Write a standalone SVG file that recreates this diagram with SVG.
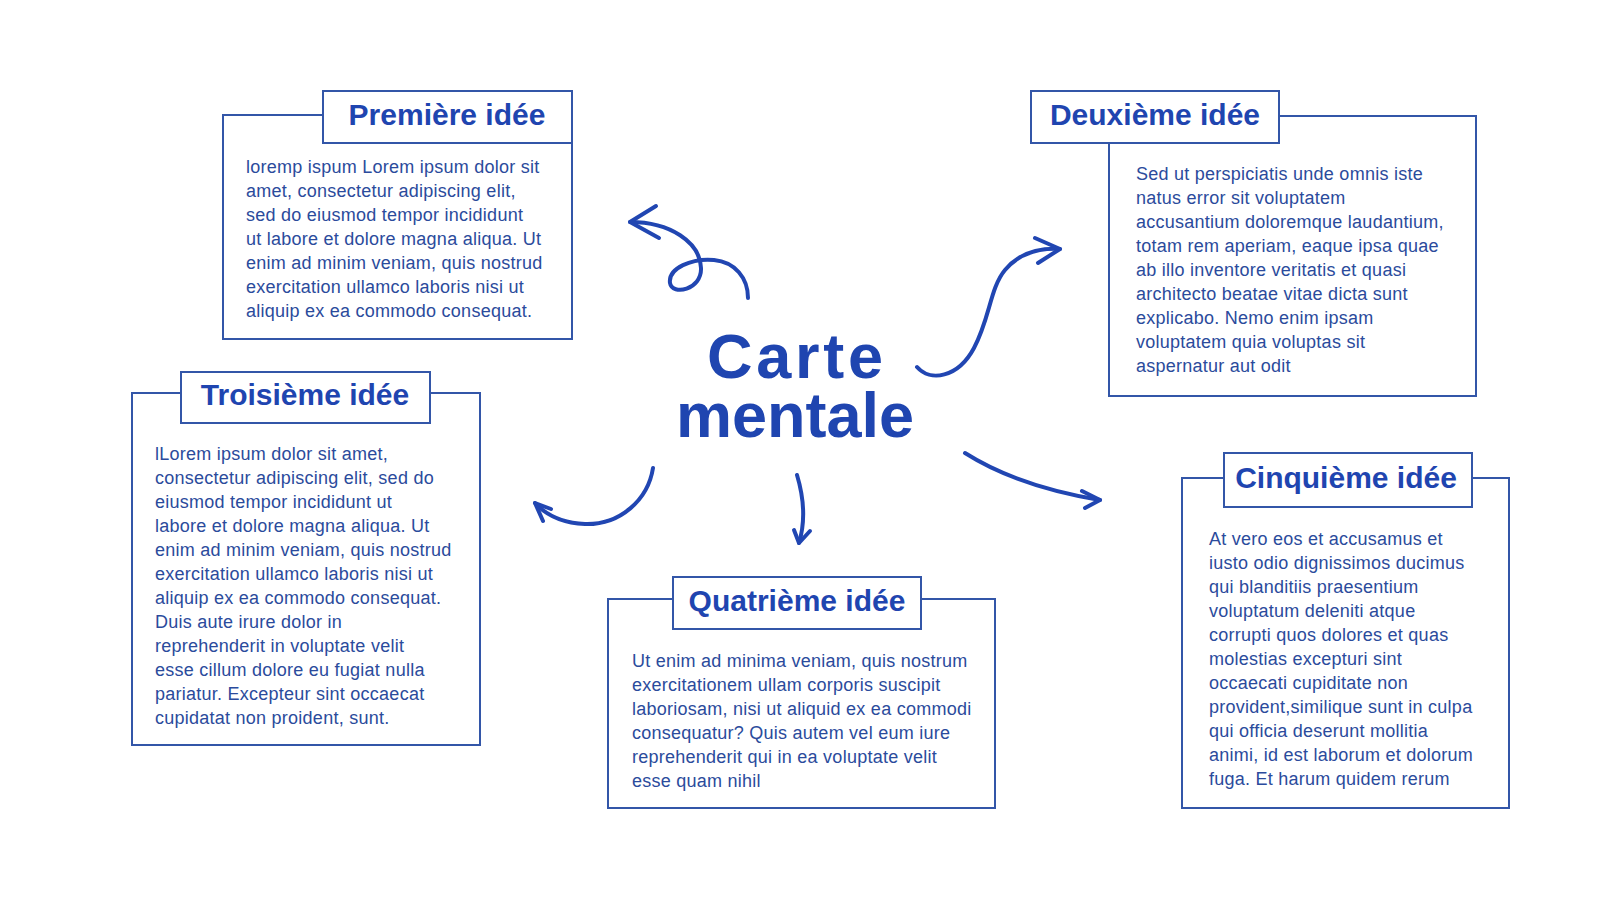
<svg xmlns="http://www.w3.org/2000/svg" width="1600" height="900" viewBox="0 0 1600 900">
<style>
.box{fill:#ffffff;stroke:#3356a8;stroke-width:2}
.title{font-family:"Liberation Sans",Arial,sans-serif;font-weight:bold;font-size:30px;fill:#1f45b0;text-anchor:middle}
.body{font-family:"Liberation Sans",Arial,sans-serif;font-size:18px;letter-spacing:0.25px;fill:#2b4b9c}
.main{font-family:"Liberation Sans",Arial,sans-serif;font-weight:bold;font-size:63px;fill:#1f45b0;text-anchor:middle}
.arrow{fill:none;stroke:#2146b2;stroke-width:4;stroke-linecap:round;stroke-linejoin:round}
</style>
<rect width="1600" height="900" fill="#ffffff"/>

<g id="center">
<text class="main" x="795" y="378" textLength="176" lengthAdjust="spacing">Carte</text>
<text class="main" x="795" y="437">mentale</text>
</g>

<g id="connectors">
<path class="arrow" d="M748,298 C748,278 735,262 714,260 C692,258 668,268 670,283 C672,296 702,290 701,268 C700,242 670,222 630,222"/>
<path class="arrow" d="M656,206 L630,222 L659,238"/>
<path class="arrow" d="M917,367 C930,382 958,378 974,348 C990,318 990,288 1005,270 C1020,252 1040,248 1060,249"/>
<path class="arrow" d="M1035,238 L1060,249 L1038,263"/>
<path class="arrow" d="M653,468 C648,500 620,525 585,524 C562,523 546,515 535,503"/>
<path class="arrow" d="M551,509 L535,503 L543,521"/>
<path class="arrow" d="M797,475 C803,495 806,520 799,543"/>
<path class="arrow" d="M794,530 L799,543 L810,531"/>
<path class="arrow" d="M965,453 C995,472 1040,490 1100,500"/>
<path class="arrow" d="M1082,491 L1100,500 L1085,508"/>
</g>

<g id="idea1">
<rect class="box" x="223" y="115" width="349" height="224"/>
<rect class="box" x="323" y="91" width="249" height="52"/>
<text class="title" x="447" y="125">Première idée</text>
<text class="body" x="246" y="173">
<tspan x="246" dy="0">loremp ispum Lorem ipsum dolor sit</tspan>
<tspan x="246" dy="24">amet, consectetur adipiscing elit,</tspan>
<tspan x="246" dy="24">sed do eiusmod tempor incididunt</tspan>
<tspan x="246" dy="24">ut labore et dolore magna aliqua. Ut</tspan>
<tspan x="246" dy="24">enim ad minim veniam, quis nostrud</tspan>
<tspan x="246" dy="24">exercitation ullamco laboris nisi ut</tspan>
<tspan x="246" dy="24">aliquip ex ea commodo consequat.</tspan>
</text>
</g>

<g id="idea2">
<rect class="box" x="1109" y="116" width="367" height="280"/>
<rect class="box" x="1031" y="91" width="248" height="52"/>
<text class="title" x="1155" y="125">Deuxième idée</text>
<text class="body" x="1136" y="180">
<tspan x="1136" dy="0">Sed ut perspiciatis unde omnis iste</tspan>
<tspan x="1136" dy="24">natus error sit voluptatem</tspan>
<tspan x="1136" dy="24">accusantium doloremque laudantium,</tspan>
<tspan x="1136" dy="24">totam rem aperiam, eaque ipsa quae</tspan>
<tspan x="1136" dy="24">ab illo inventore veritatis et quasi</tspan>
<tspan x="1136" dy="24">architecto beatae vitae dicta sunt</tspan>
<tspan x="1136" dy="24">explicabo. Nemo enim ipsam</tspan>
<tspan x="1136" dy="24">voluptatem quia voluptas sit</tspan>
<tspan x="1136" dy="24">aspernatur aut odit</tspan>
</text>
</g>

<g id="idea3">
<rect class="box" x="132" y="393" width="348" height="352"/>
<rect class="box" x="181" y="372" width="249" height="51"/>
<text class="title" x="305" y="405">Troisième idée</text>
<text class="body" x="155" y="460">
<tspan x="155" dy="0">lLorem ipsum dolor sit amet,</tspan>
<tspan x="155" dy="24">consectetur adipiscing elit, sed do</tspan>
<tspan x="155" dy="24">eiusmod tempor incididunt ut</tspan>
<tspan x="155" dy="24">labore et dolore magna aliqua. Ut</tspan>
<tspan x="155" dy="24">enim ad minim veniam, quis nostrud</tspan>
<tspan x="155" dy="24">exercitation ullamco laboris nisi ut</tspan>
<tspan x="155" dy="24">aliquip ex ea commodo consequat.</tspan>
<tspan x="155" dy="24">Duis aute irure dolor in</tspan>
<tspan x="155" dy="24">reprehenderit in voluptate velit</tspan>
<tspan x="155" dy="24">esse cillum dolore eu fugiat nulla</tspan>
<tspan x="155" dy="24">pariatur. Excepteur sint occaecat</tspan>
<tspan x="155" dy="24">cupidatat non proident, sunt.</tspan>
</text>
</g>

<g id="idea4">
<rect class="box" x="608" y="599" width="387" height="209"/>
<rect class="box" x="673" y="577" width="248" height="52"/>
<text class="title" x="797" y="611">Quatrième idée</text>
<text class="body" x="632" y="667">
<tspan x="632" dy="0">Ut enim ad minima veniam, quis nostrum</tspan>
<tspan x="632" dy="24">exercitationem ullam corporis suscipit</tspan>
<tspan x="632" dy="24">laboriosam, nisi ut aliquid ex ea commodi</tspan>
<tspan x="632" dy="24">consequatur? Quis autem vel eum iure</tspan>
<tspan x="632" dy="24">reprehenderit qui in ea voluptate velit</tspan>
<tspan x="632" dy="24">esse quam nihil</tspan>
</text>
</g>

<g id="idea5">
<rect class="box" x="1182" y="478" width="327" height="330"/>
<rect class="box" x="1224" y="453" width="248" height="54"/>
<text class="title" x="1346" y="488">Cinquième idée</text>
<text class="body" x="1209" y="545">
<tspan x="1209" dy="0">At vero eos et accusamus et</tspan>
<tspan x="1209" dy="24">iusto odio dignissimos ducimus</tspan>
<tspan x="1209" dy="24">qui blanditiis praesentium</tspan>
<tspan x="1209" dy="24">voluptatum deleniti atque</tspan>
<tspan x="1209" dy="24">corrupti quos dolores et quas</tspan>
<tspan x="1209" dy="24">molestias excepturi sint</tspan>
<tspan x="1209" dy="24">occaecati cupiditate non</tspan>
<tspan x="1209" dy="24">provident,similique sunt in culpa</tspan>
<tspan x="1209" dy="24">qui officia deserunt mollitia</tspan>
<tspan x="1209" dy="24">animi, id est laborum et dolorum</tspan>
<tspan x="1209" dy="24">fuga. Et harum quidem rerum</tspan>
</text>
</g>
</svg>
